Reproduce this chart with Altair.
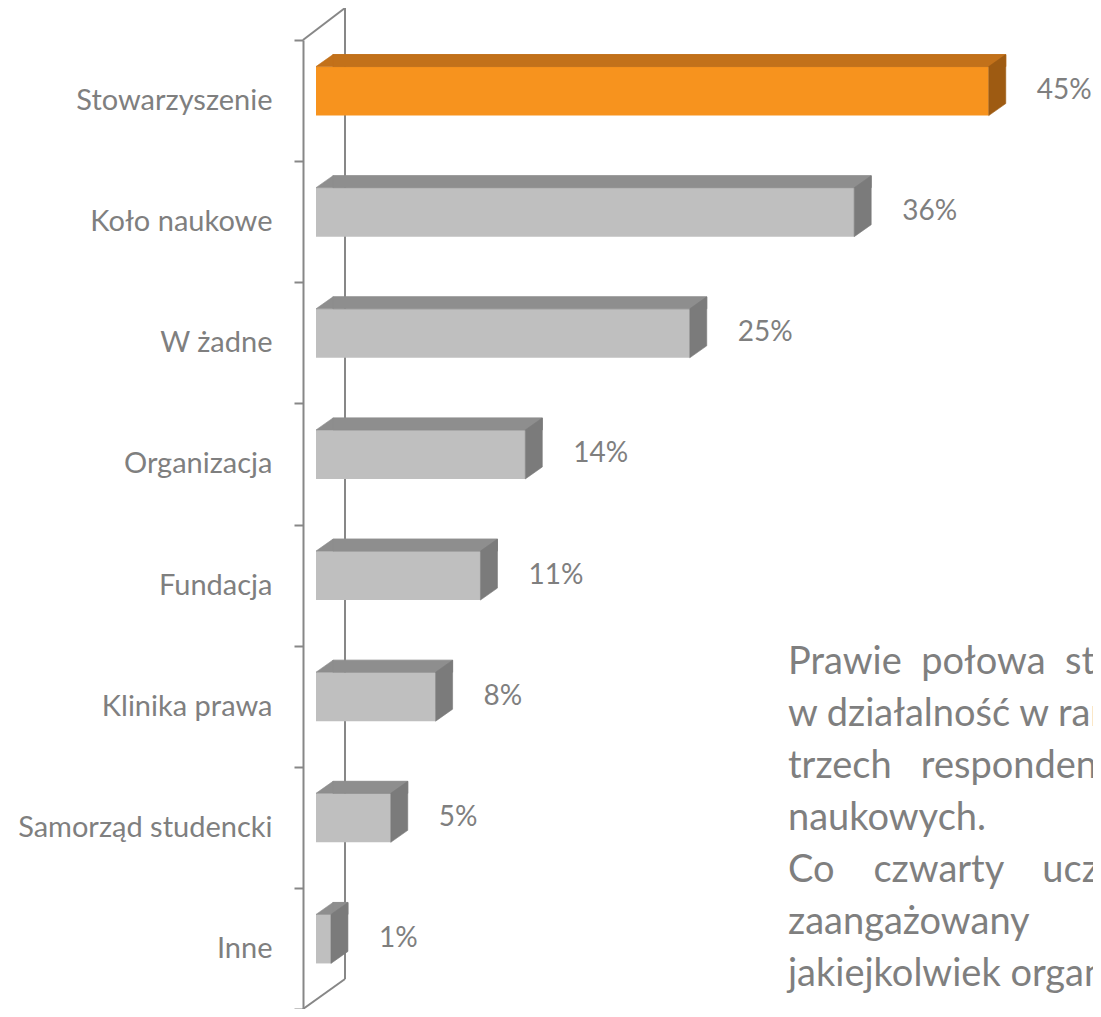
import altair as alt
import pandas as pd

# ---- data ----
categories = ["Stowarzyszenie", "Koło naukowe", "W żadne", "Organizacja",
              "Fundacja", "Klinika prawa", "Samorząd studencki", "Inne"]
values = [45, 36, 25, 14, 11, 8, 5, 1]
value_labels = ["45%", "36%", "25%", "14%", "11%", "8%", "5%", "1%"]
highlight = "Stowarzyszenie"

NB = "\u00a0"
paragraph_lines = [
    "Prawie" + NB * 2 + "połowa" + NB * 2 + "studentów" + NB * 2 + "angażuje",
    "w działalność w ramach stowarzyszeń, a co",
    "trzech" + NB * 3 + "respondentów" + NB * 3 + "w kołach",
    "naukowych.",
    "Co" + NB * 4 + "czwarty" + NB * 4 + "uczestnik" + NB * 4 + "nie",
    "zaangażowany" + NB * 10 + "w",
    "jakiejkolwiek organizacji.",
]

df = pd.DataFrame({"cat": categories, "v": values, "lab": value_labels})
df["zero"] = 0

# ---- style ----
FONT = "Lato"
TXT = "#7F7F7F"
WALL = "#878787"
OR_FRONT, OR_TOP, OR_SIDE = "#F7931E", "#C2711A", "#9E5B12"
GR_FRONT, GR_TOP, GR_SIDE = "#BFBFBF", "#8E8E8E", "#7B7B7B"

PAD_L, PAD_T = 295, 32
W, H = 790, 969
xscale = alt.Scale(domain=[0, 50], range=[13, 13 + 50 * 14.95], nice=False, zero=False)
yaxis = alt.Axis(title=None, tickBand="extent", domainColor=WALL, domainWidth=2,
                 tickColor=WALL, tickWidth=2, tickSize=9, labelPadding=22,
                 labelFont=FONT, labelFontSize=29, labelColor=TXT, labelLimit=0)
Y = alt.Y("cat:N", sort=categories,
          scale=alt.Scale(paddingInner=0, paddingOuter=0), axis=yaxis)
X = alt.X("v:Q", scale=xscale, axis=None)
X0 = alt.X("zero:Q", scale=xscale, axis=None)

is_hl = alt.datum.cat == highlight


def fill(c_hl, c_other):
    return alt.condition(is_hl, alt.value(c_hl), alt.value(c_other))


base = alt.Chart(df)

SIDE_PATH = "M-0.2787,-0.6066L0.2787,-1L0.2787,0.6066L-0.2787,1Z"
TRI_PATH = "M-1,0.70588L1,-0.70588L1,0.70588Z"

front = base.mark_bar(height=49, yOffset=-9.5).encode(
    x=X, x2=alt.X2("zero"), y=Y, fill=fill(OR_FRONT, GR_FRONT))
top = base.mark_bar(height=12, yOffset=-40, xOffset=17, x2Offset=17).encode(
    x=X, x2=alt.X2("zero"), y=Y, fill=fill(OR_TOP, GR_TOP),
    stroke=fill(OR_TOP, GR_TOP))
tri = base.mark_point(shape=TRI_PATH, size=289, filled=True, opacity=1,
                      strokeWidth=0.6, xOffset=8.5, yOffset=-40).encode(
    x=X0, y=Y, fill=fill(OR_TOP, GR_TOP), stroke=fill(OR_TOP, GR_TOP))
side = base.mark_point(shape=SIDE_PATH, size=3721, filled=True, opacity=1,
                       strokeWidth=0.6, xOffset=8.5, yOffset=-15.5).encode(
    x=X, y=Y, fill=fill(OR_SIDE, GR_SIDE), stroke=fill(OR_SIDE, GR_SIDE))
pct = base.mark_text(align="left", baseline="middle", dx=48, dy=-9.5,
                     font=FONT, fontSize=28, color=TXT).encode(
    x=X, y=Y, text="lab:N")

one = alt.Chart(pd.DataFrame({"k": [0]}))
wall_right = one.mark_rule(color=WALL, strokeWidth=2).encode(
    x=alt.value(42), y=alt.value(-32), y2=alt.value(H - 30))
wall_top = one.mark_rule(color=WALL, strokeWidth=2).encode(
    x=alt.value(0), x2=alt.value(42), y=alt.value(0), y2=alt.value(-32))
wall_bot = one.mark_rule(color=WALL, strokeWidth=2).encode(
    x=alt.value(0), x2=alt.value(42), y=alt.value(H), y2=alt.value(H - 30))

para = one.mark_text(text=paragraph_lines, align="left", baseline="alphabetic",
                     lineHeight=52, font=FONT, fontSize=38, color=TXT,
                     clip=True).encode(x=alt.value(485), y=alt.value(634))

chart = alt.layer(wall_right, wall_top, wall_bot, front, top, tri, side, pct, para).properties(
    width=W, height=H,
    autosize=alt.AutoSizeParams(type="none"),
    padding={"left": PAD_L, "top": PAD_T, "right": 0, "bottom": 0},
).configure(background="white", view=alt.ViewConfig(stroke=None))

chart.save("out.html", embed_options={"renderer": "svg", "actions": False})
